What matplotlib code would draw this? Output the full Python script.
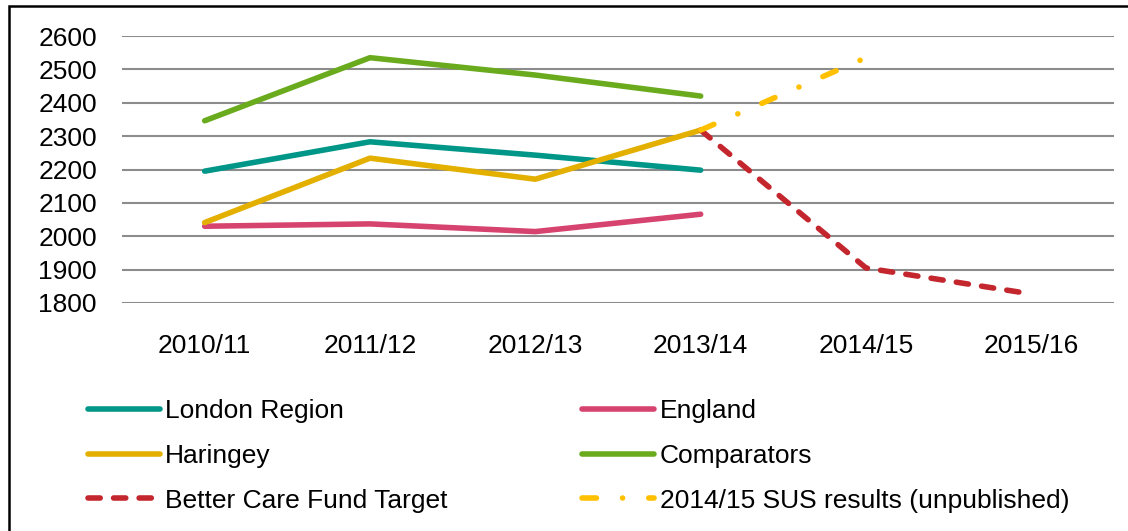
import matplotlib
matplotlib.use("Agg")
import matplotlib.pyplot as plt
from matplotlib.patches import Rectangle

plt.rcParams['font.family'] = ['Liberation Sans', 'DejaVu Sans']

categories = ["2010/11", "2011/12", "2012/13", "2013/14", "2014/15", "2015/16"]
london = [2195, 2283, 2243, 2198]
england = [2030, 2037, 2014, 2066]
haringey = [2041, 2234, 2171, 2318]
comparators = [2346, 2535, 2483, 2420]
bcf_target = [2318, 1905, 1827]          # 2013/14 .. 2015/16
sus_results = [2318, 2535]               # 2013/14 .. 2014/15
yticks = [1800, 1900, 2000, 2100, 2200, 2300, 2400, 2500, 2600]

W, H = 1128, 531
fig = plt.figure(figsize=(W / 100, H / 100), dpi=100)
ax = fig.add_axes([122 / W, 1 - 303 / H, (1114 - 122) / W, (303 - 36) / H])

x = list(range(len(categories)))
lw = 4.0
ax.plot(x[:4], london, color="#009688", lw=lw, solid_capstyle="round", label="London Region", zorder=3)
ax.plot(x[:4], england, color="#D6436E", lw=lw, solid_capstyle="round", label="England", zorder=3)
ax.plot(x[:4], haringey, color="#E3B000", lw=lw, solid_capstyle="round", label="Haringey", zorder=3)
ax.plot(x[:4], comparators, color="#6AAB1E", lw=lw, solid_capstyle="round", label="Comparators", zorder=3)
ax.plot(x[3:6], bcf_target, color="#C4262E", lw=lw, linestyle=(0, (2.2, 2.4)),
        dash_capstyle="round", label="Better Care Fund Target", zorder=3)
ax.plot(x[3:5], sus_results, color="#FFC000", lw=lw, linestyle=(0, (2.6, 4.7, 0.01, 4.7)),
        dash_capstyle="round", label="2014/15 SUS results (unpublished)", zorder=4)

ax.set_xlim(-0.5, 5.5)
ax.set_ylim(1800, 2600)
ax.set_yticks(yticks)
ax.set_xticks(x)
ax.set_xticklabels(categories)
ax.yaxis.grid(True, color="#8C8C8C", lw=1.5, zorder=0)
ax.set_axisbelow(True)
for s in ax.spines.values():
    s.set_visible(False)
ax.tick_params(axis="both", length=0, labelsize=19, colors="black")
ax.tick_params(axis="y", pad=18)
ax.tick_params(axis="x", pad=22)

handles, labels = ax.get_legend_handles_labels()
order = [0, 2, 4, 1, 3, 5]
leg = fig.legend([handles[i] for i in order], [labels[i] for i in order],
                 loc="upper left", bbox_to_anchor=(88 / W, 1 - 399 / H), ncol=2,
                 frameon=False, fontsize=19, handlelength=2.73, handletextpad=0.2,
                 columnspacing=5.1, labelspacing=0.79, borderaxespad=0, borderpad=0)

fig.add_artist(Rectangle((9 / W, -0.05), 1.1, 1 - 6 / H + 0.05, transform=fig.transFigure,
                         fill=False, edgecolor="black", lw=1.8, clip_on=False))

fig.savefig("out.png", dpi=100)
